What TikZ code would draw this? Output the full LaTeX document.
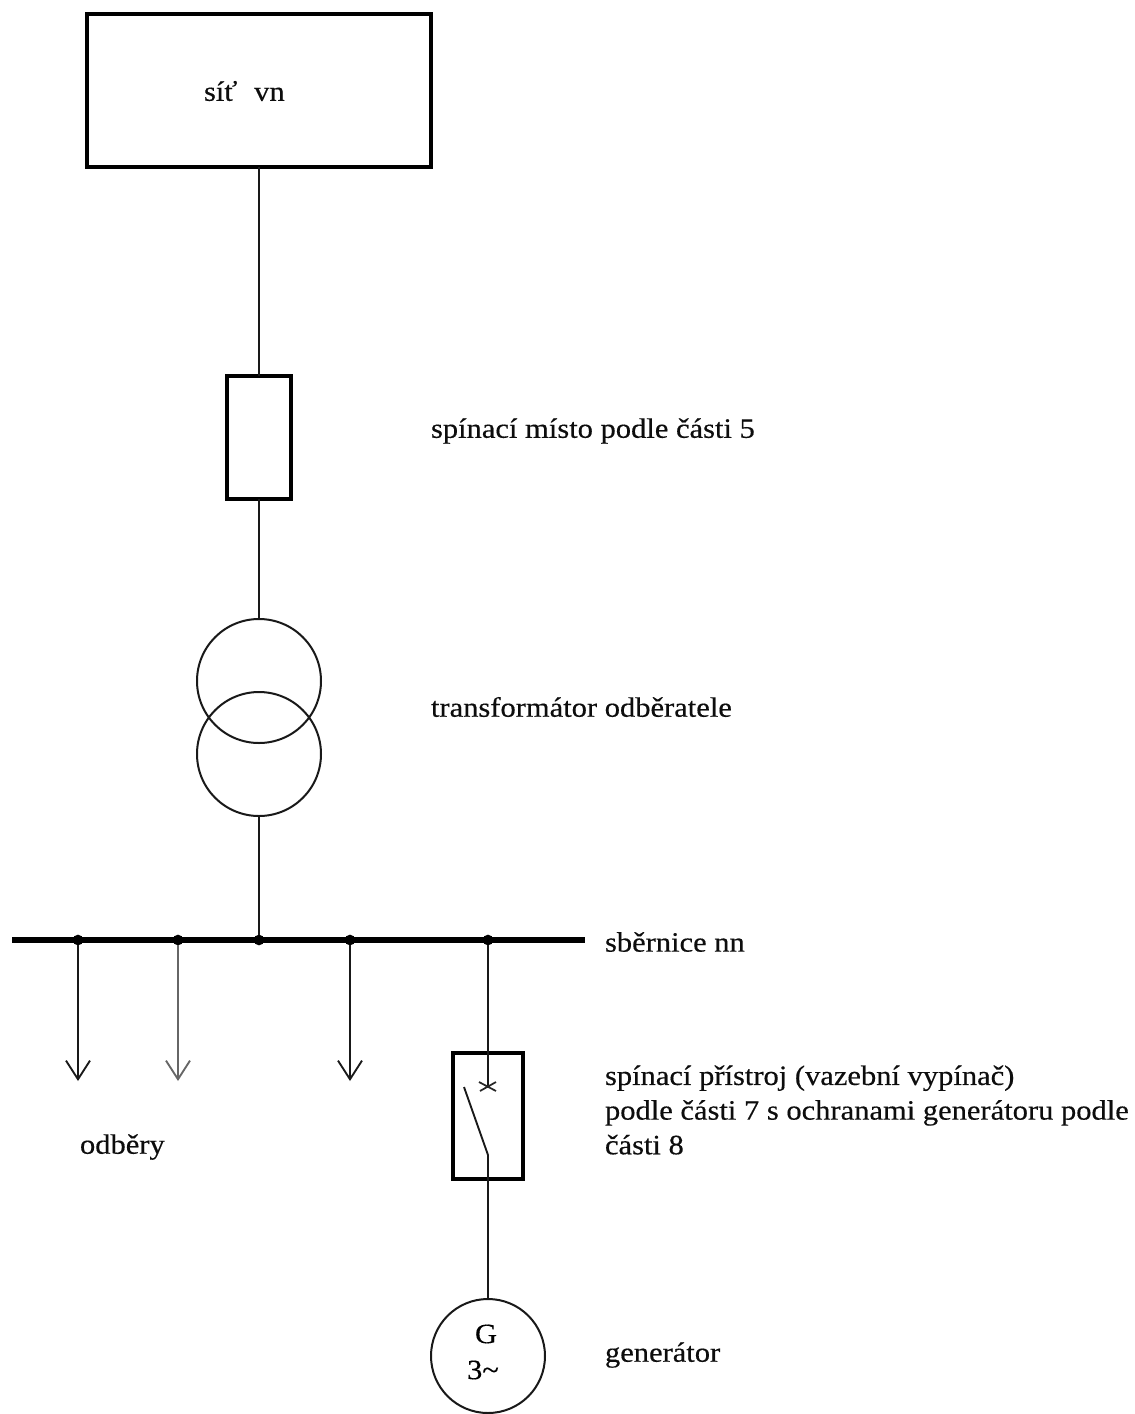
\documentclass[tikz,border=0pt]{standalone}
\usepackage{fontspec}
\setmainfont[FakeStretch=1.09,FakeBold=0.4]{Liberation Serif}
\usetikzlibrary{arrows.meta}
\tikzset{
  x=0.75pt,y=-0.75pt,
  wire/.style={line width=1.4pt,draw=black!90},
  heavybox/.style={draw=black,line width=2.5pt,minimum width=#1,inner sep=0pt,outer sep=0pt},
  ring/.style={circle,draw=black!90,line width=1.5pt,inner sep=0pt,outer sep=0pt,minimum size=124*0.75pt},
  junction/.style={circle,fill=black,inner sep=0pt,minimum size=8pt,outer sep=0pt},
  load/.style={wire,-{Straight Barb[length=14pt,width=18pt,line width=1.4pt]}},
  label/.style={anchor=west,inner sep=0pt,outer sep=0pt,font=\fontsize{21}{26}\selectfont,text=black!95},
}
\begin{document}
\begin{tikzpicture}
\useasboundingbox (0,0) rectangle (1135,1414);
% boxes
\node[heavybox=344*0.75pt,minimum height=153*0.75pt] (net) at (259,90.5) {};
\node[heavybox=64*0.75pt,minimum height=123*0.75pt] (fuse) at (259,437.5) {};
\node[heavybox=70*0.75pt,minimum height=126*0.75pt,line width=2.9pt] (swbox) at (488,1116) {};
% transformer
\node[ring] (t1) at (259,681) {};
\node[ring] (t2) at (259,754) {};
% generator
\node[circle,draw=black!90,line width=1.5pt,inner sep=0pt,outer sep=0pt,minimum size=114*0.75pt] (gen) at (488,1356) {};
% busbar
\coordinate (busL) at (12,940);
\coordinate (busR) at (585,940);
\draw[line width=4.4pt] (busL) -- (busR);
\node[junction] (j1) at (78,940) {};
\node[junction] (j2) at (178,940) {};
\node[junction] (j3) at (259,940) {};
\node[junction] (j4) at (350,940) {};
\node[junction] (j5) at (488,940) {};
% wires
\draw[wire] (net.south) -- (fuse.north);
\draw[wire] (fuse.south) -- (t1.north);
\draw[wire] (t2.south) -- (j3);
% loads
\coordinate (l1) at (78,1081);
\coordinate (l2) at (178,1081);
\coordinate (l4) at (350,1081);
\draw[load] (j1) -- (l1);
\draw[load,draw=black!60] (j2) -- (l2);
\draw[load] (j4) -- (l4);
% switch
\coordinate (contact) at (488,1086);
\coordinate (hinge) at (488,1155);
\coordinate (bladeTip) at (464,1087);
\coordinate (xa) at (479,1082);
\coordinate (xb) at (496,1091);
\coordinate (xc) at (480,1091);
\coordinate (xd) at (496,1082);
\draw[wire] (j5) -- (contact);
\draw[line width=1.3pt,draw=black!85] (xa) -- (xb) (xc) -- (xd);
\draw[wire] (bladeTip) -- (hinge) -- (gen.north);
% labels
\node[label] (tnet) at (204,91) {síť\hspace{0.6em}vn};
\node[label] (tfuse) at (431,431) {spínací místo podle části 5};
\node[label] (ttr) at (431,707) {transformátor odběratele};
\node[label] (tbus) at (605,942) {sběrnice nn};
\node[label,align=left] (tsw) at (605,1110) {spínací přístroj (vazební vypínač)\\podle části 7 s ochranami generátoru podle\\části 8};
\node[label] (tload) at (80,1147) {odběry};
\node[label] (tgen) at (605,1355) {generátor};
\node[font=\fontsize{21}{26}\selectfont,inner sep=0pt] (tg) at (486,1334) {G};
\node[font=\fontsize{21}{26}\selectfont,inner sep=0pt] (t3) at (483,1370) {3\textasciitilde};
\end{tikzpicture}
\end{document}
